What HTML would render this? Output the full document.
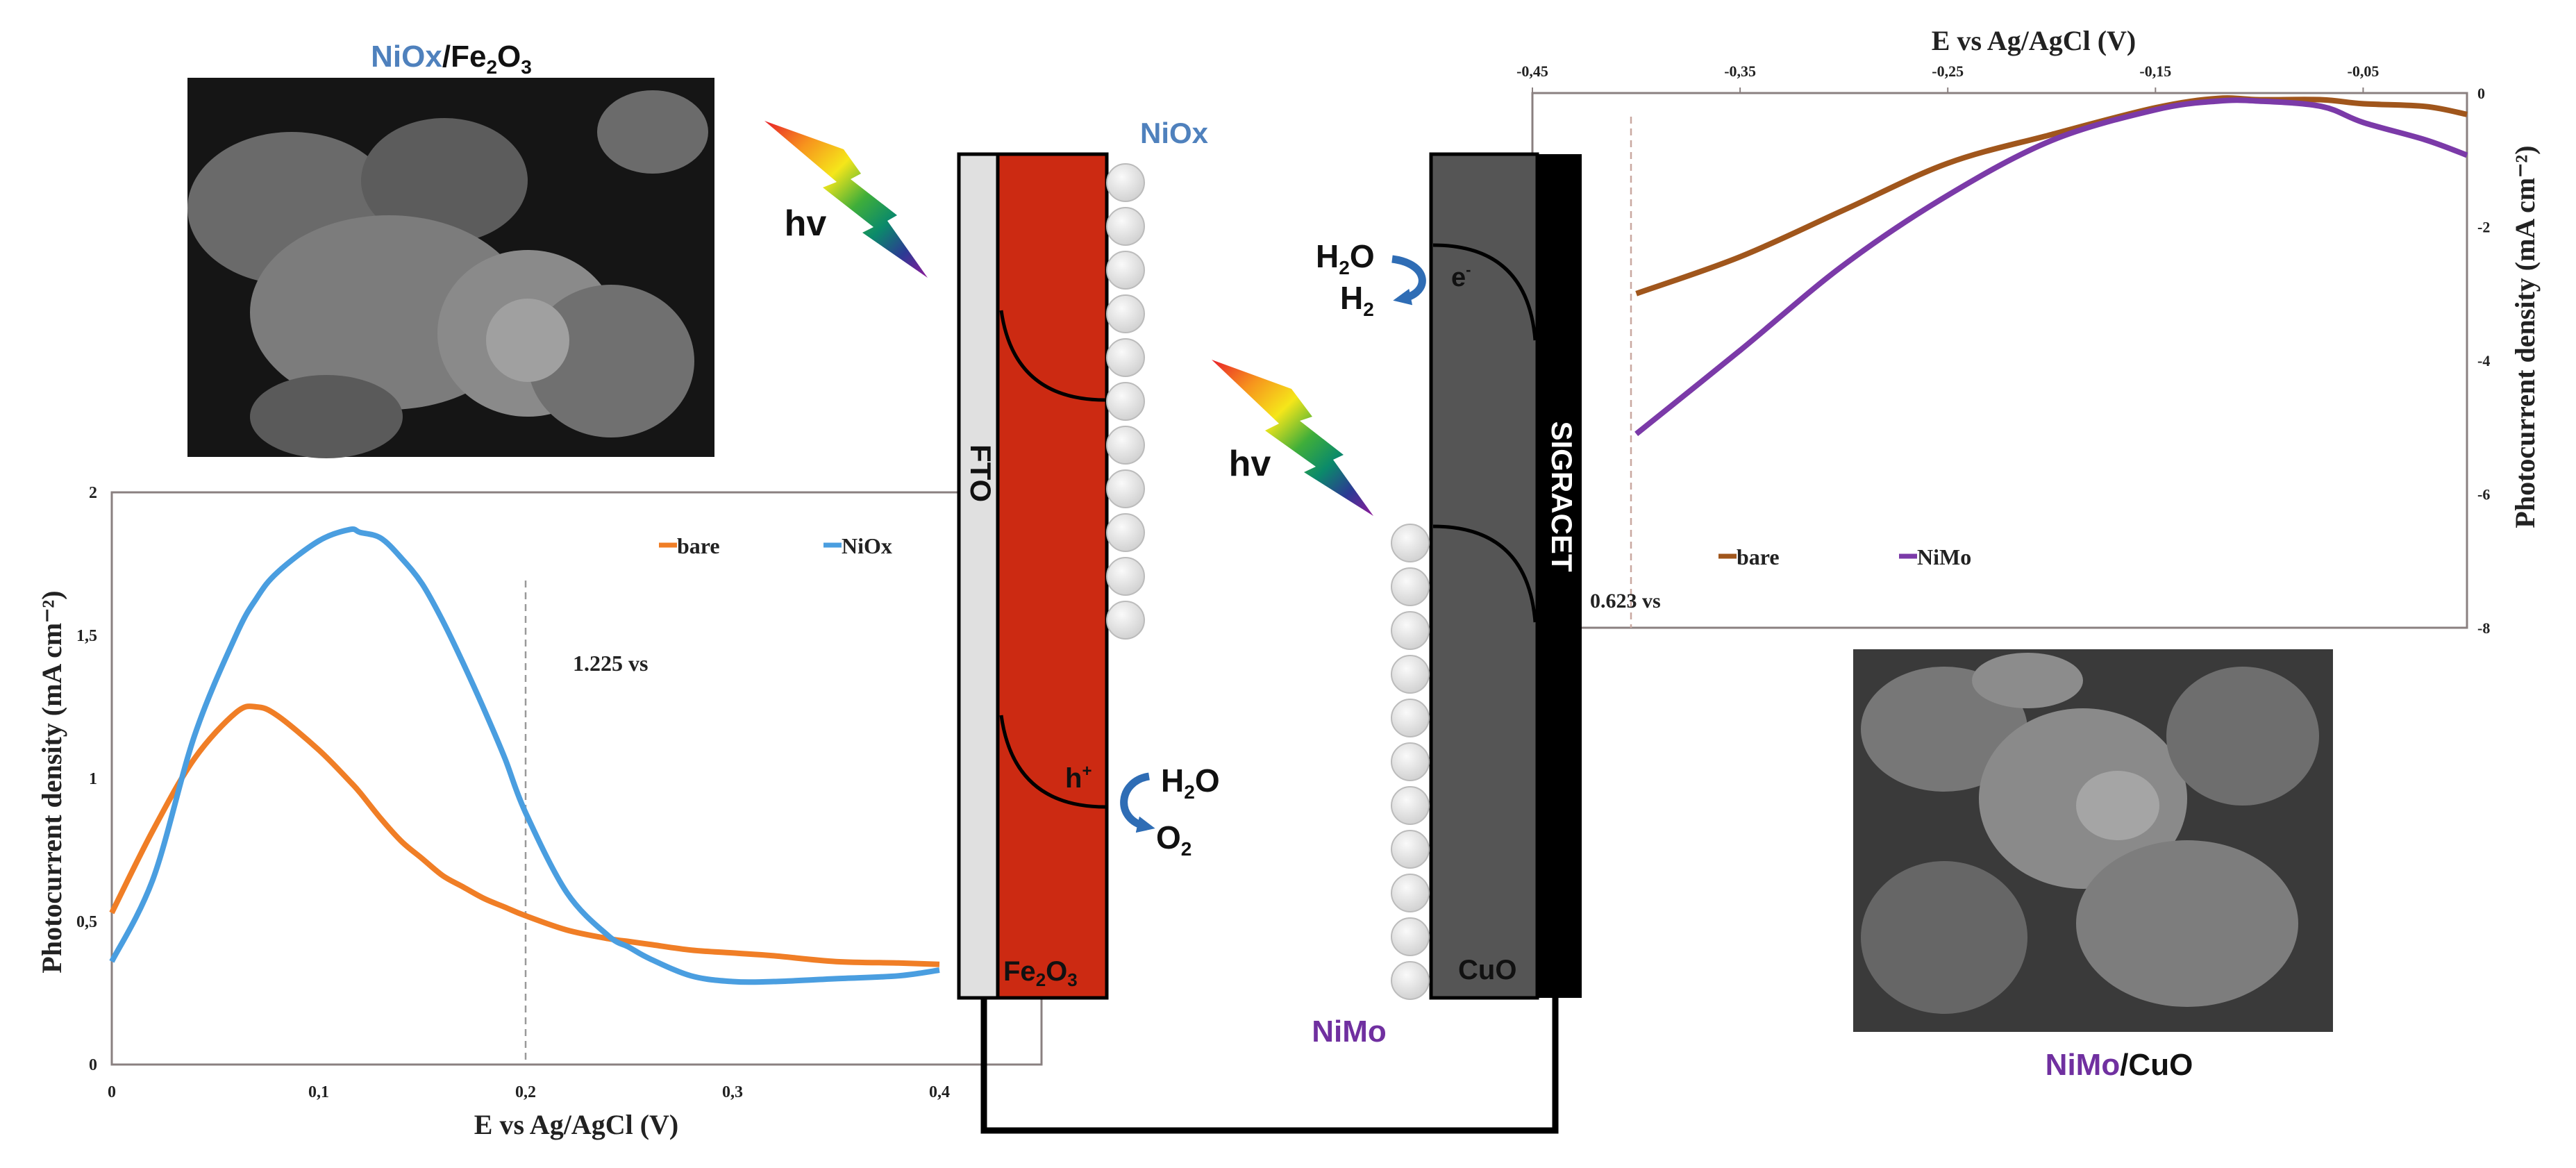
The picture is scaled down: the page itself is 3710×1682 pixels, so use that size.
<!DOCTYPE html>
<html><head><meta charset="utf-8"><style>
html,body{margin:0;padding:0;background:#fff;}
svg{display:block;}
.ser{font-family:"Liberation Serif",serif;font-weight:bold;}
.san{font-family:"Liberation Sans",sans-serif;font-weight:bold;}
</style></head><body>
<svg id="fig" width="3710" height="1682" viewBox="0 0 3710 1682" xmlns="http://www.w3.org/2000/svg">
<defs>
<linearGradient id="rainbow" x1="0" y1="0" x2="1" y2="1">
<stop offset="0" stop-color="#e8202a"/><stop offset="0.2" stop-color="#f7941d"/><stop offset="0.38" stop-color="#f5e61a"/><stop offset="0.55" stop-color="#3fae3a"/><stop offset="0.7" stop-color="#0b8a6a"/><stop offset="0.85" stop-color="#2b3a93"/><stop offset="1" stop-color="#8e1a9a"/>
</linearGradient>
<radialGradient id="bead" cx="0.4" cy="0.35" r="0.7"><stop offset="0" stop-color="#fafafa"/><stop offset="1" stop-color="#cfcfcf"/></radialGradient>
<marker id="arr" markerUnits="userSpaceOnUse" markerWidth="30" markerHeight="30" refX="12" refY="15" orient="auto"><path d="M0,3 L26,15 L0,27 z" fill="#2f6db5"/></marker>
</defs>

<g>
<rect x="270" y="112" width="759" height="546" fill="#151515"/>
<ellipse cx="420" cy="300" rx="150" ry="110" fill="#6a6a6a"/>
<ellipse cx="640" cy="260" rx="120" ry="90" fill="#5c5c5c"/>
<ellipse cx="560" cy="450" rx="200" ry="140" fill="#7c7c7c"/>
<ellipse cx="760" cy="480" rx="130" ry="120" fill="#8a8a8a"/>
<ellipse cx="880" cy="520" rx="120" ry="110" fill="#707070"/>
<ellipse cx="940" cy="190" rx="80" ry="60" fill="#6b6b6b"/>
<ellipse cx="470" cy="600" rx="110" ry="60" fill="#5a5a5a"/>
<ellipse cx="760" cy="490" rx="60" ry="60" fill="#a0a0a0"/>
</g>
<text class="san" x="650" y="96" font-size="44" text-anchor="middle"><tspan fill="#4f81bd">NiOx</tspan><tspan fill="#111">/Fe</tspan><tspan fill="#111" font-size="28" dy="10">2</tspan><tspan fill="#111" dy="-10">O</tspan><tspan fill="#111" font-size="28" dy="10">3</tspan></text>

<g>
<rect x="2669" y="935" width="691" height="551" fill="#3a3a3a"/>
<ellipse cx="2800" cy="1050" rx="120" ry="90" fill="#777"/>
<ellipse cx="3000" cy="1150" rx="150" ry="130" fill="#8a8a8a"/>
<ellipse cx="3230" cy="1060" rx="110" ry="100" fill="#6e6e6e"/>
<ellipse cx="2800" cy="1350" rx="120" ry="110" fill="#666"/>
<ellipse cx="3150" cy="1330" rx="160" ry="120" fill="#7d7d7d"/>
<ellipse cx="3050" cy="1160" rx="60" ry="50" fill="#a5a5a5"/>
<ellipse cx="2920" cy="980" rx="80" ry="40" fill="#8c8c8c"/>
</g>
<text class="san" x="3052" y="1548" font-size="44" text-anchor="middle"><tspan fill="#7030a0">NiMo</tspan><tspan fill="#111">/CuO</tspan></text>

<g id="leftChart"></g>
<g id="rightChart"></g>

<g>
<path d="M1417,1437 V1628 H2240 V1437" fill="none" stroke="#000" stroke-width="9"/>
<rect x="1381" y="222" width="56" height="1215" fill="#e0e0e0" stroke="#000" stroke-width="5"/>
<rect x="1437" y="222" width="157" height="1215" fill="#cc2a12" stroke="#000" stroke-width="5"/>
<text class="san" x="1409" y="640" font-size="42" fill="#111" transform="rotate(90 1409 640)" text-anchor="start" dominant-baseline="middle">FTO</text>
<text class="san" x="1445" y="1412" font-size="40" fill="#111">Fe<tspan font-size="26" dy="8">2</tspan><tspan dy="-8">O</tspan><tspan font-size="26" dy="8">3</tspan></text>
<path d="M1442,447 Q1460,576 1592,576" fill="none" stroke="#000" stroke-width="5"/>
<path d="M1442,1030 Q1460,1162 1592,1162" fill="none" stroke="#000" stroke-width="5"/>
<text class="san" x="1534" y="1134" font-size="40" fill="#111">h<tspan font-size="24" dy="-16">+</tspan></text>
<g id="niBeads"></g>
<text class="san" x="1691" y="206" font-size="42" fill="#4f81bd" text-anchor="middle">NiOx</text>
<path d="M1655,1118 C1610,1125 1605,1180 1650,1190" fill="none" stroke="#2f6db5" stroke-width="11" marker-end="url(#arr)"/>
<text class="san" x="1672" y="1140" font-size="46" fill="#111">H<tspan font-size="28" dy="10">2</tspan><tspan dy="-10">O</tspan></text>
<text class="san" x="1665" y="1222" font-size="46" fill="#111">O<tspan font-size="28" dy="10">2</tspan></text>

<rect x="2061" y="222" width="153" height="1215" fill="#555" stroke="#000" stroke-width="5"/>
<rect x="2214" y="222" width="64" height="1215" fill="#000"/>
<text class="san" x="2246" y="715" font-size="42" fill="#fff" transform="rotate(90 2246 715)" text-anchor="middle" dominant-baseline="middle">SIGRACET</text>
<text class="san" x="2100" y="1410" font-size="40" fill="#111">CuO</text>
<path d="M2064,353 Q2200,353 2211,490" fill="none" stroke="#000" stroke-width="5"/>
<path d="M2064,758 Q2200,758 2211,896" fill="none" stroke="#000" stroke-width="5"/>
<text class="san" x="2090" y="412" font-size="38" fill="#111">e<tspan font-size="22" dy="-16">-</tspan></text>
<g id="moBeads"></g>
<text class="san" x="1943" y="1500" font-size="44" fill="#7030a0" text-anchor="middle">NiMo</text>
<path d="M2005,373 C2060,380 2060,422 2020,430" fill="none" stroke="#2f6db5" stroke-width="11" marker-end="url(#arr)"/>
<text class="san" x="1895" y="385" font-size="46" fill="#111">H<tspan font-size="28" dy="10">2</tspan><tspan dy="-10">O</tspan></text>
<text class="san" x="1930" y="445" font-size="46" fill="#111">H<tspan font-size="28" dy="10">2</tspan></text>

<polygon points="1101,174 1215,215 1240,250 1225,258 1292,310 1278,318 1336,400 1242,335 1258,327 1185,270 1205,262" fill="url(#rainbow)"/>
<text class="san" x="1160" y="339" font-size="52" fill="#111" text-anchor="middle">hv</text>
<polygon points="1745,518 1860,560 1890,600 1872,606 1935,655 1920,662 1978,743 1878,680 1895,672 1822,620 1842,610" fill="url(#rainbow)"/>
<text class="san" x="1800" y="685" font-size="52" fill="#111" text-anchor="middle">hv</text>
</g>
</svg>
<script>
const leftX = [0,0.02,0.04,0.06,0.07,0.08,0.1,0.115,0.12,0.13,0.14,0.15,0.16,0.17,0.18,0.19,0.2,0.22,0.24,0.25,0.26,0.28,0.3,0.32,0.35,0.38,0.4];
const leftBare = [0.53,0.82,1.07,1.23,1.25,1.22,1.1,0.99,0.95,0.86,0.78,0.72,0.66,0.62,0.58,0.55,0.52,0.47,0.44,0.43,0.42,0.40,0.39,0.38,0.36,0.355,0.35];
const leftNiOx = [0.36,0.65,1.15,1.5,1.63,1.72,1.83,1.87,1.86,1.84,1.77,1.68,1.55,1.4,1.24,1.07,0.88,0.6,0.45,0.41,0.37,0.31,0.29,0.29,0.30,0.31,0.33];
const leftXTicks = [0,0.1,0.2,0.3,0.4];
const leftXTickLabels = ["0","0,1","0,2","0,3","0,4"];
const leftYTicks = [0,0.5,1,1.5,2];
const leftYTickLabels = ["0","0,5","1","1,5","2"];
const rightX = [-0.40,-0.35,-0.30,-0.25,-0.20,-0.15,-0.12,-0.10,-0.07,-0.05,-0.02,0];
const rightBare = [-3.0,-2.45,-1.75,-1.05,-0.62,-0.22,-0.08,-0.1,-0.1,-0.16,-0.2,-0.32];
const rightNiMo = [-5.1,-3.85,-2.57,-1.53,-0.71,-0.25,-0.12,-0.12,-0.2,-0.44,-0.7,-0.93];
const rightXTicks = [-0.45,-0.35,-0.25,-0.15,-0.05];
const rightXTickLabels = ["-0,45","-0,35","-0,25","-0,15","-0,05"];
const rightYTicks = [0,-2,-4,-6,-8];
const rightYTickLabels = ["0","-2","-4","-6","-8"];

const NS="http://www.w3.org/2000/svg";
function mk(tag, attrs, parent){const e=document.createElementNS(NS,tag);for(const k in attrs)e.setAttribute(k,attrs[k]);parent.appendChild(e);return e;}
function pathFrom(xs,ys,sx,sy){
  const P=xs.map((x,i)=>[sx(x),sy(ys[i])]);
  let d="M"+P[0][0].toFixed(1)+","+P[0][1].toFixed(1);
  for(let i=0;i<P.length-1;i++){
    const p0=P[Math.max(0,i-1)],p1=P[i],p2=P[i+1],p3=P[Math.min(P.length-1,i+2)];
    const c1=[p1[0]+(p2[0]-p0[0])/6,p1[1]+(p2[1]-p0[1])/6];
    const c2=[p2[0]-(p3[0]-p1[0])/6,p2[1]-(p3[1]-p1[1])/6];
    d+="C"+c1[0].toFixed(1)+","+c1[1].toFixed(1)+" "+c2[0].toFixed(1)+","+c2[1].toFixed(1)+" "+p2[0].toFixed(1)+","+p2[1].toFixed(1);
  }
  return d;}

(function(){
  const g=document.getElementById('leftChart');
  const sx=v=>161+(v-0)/(0.4)*(1353-161);
  const sy=v=>1533-(v/2)*(1533-709);
  const fr=mk('path',{d:"M161,709 H1500 V1533 H161 Z",fill:"none",stroke:"#8a8080","stroke-width":3},g);
  
  
  leftXTicks.forEach((t,i)=>{const tx=mk('text',{x:sx(t),y:1580,"font-size":24,"text-anchor":"middle",class:"ser",fill:"#222"},g);tx.textContent=leftXTickLabels[i];
    
    });
  leftYTicks.forEach((t,i)=>{const tx=mk('text',{x:140,y:sy(t)+8,"font-size":24,"text-anchor":"end",class:"ser",fill:"#222"},g);tx.textContent=leftYTickLabels[i];
    
    });
  const dl=mk('line',{x1:sx(0.2),x2:sx(0.2),y1:836,y2:1533,stroke:"#999","stroke-width":2.5,"stroke-dasharray":"10,7"},g);
  
  
  const an=mk('text',{x:825,y:966,"font-size":32,class:"ser",fill:"#222"},g);an.textContent="1.225 vs";
  
  
  const p1=mk('path',{d:pathFrom(leftX,leftBare,sx,sy),fill:"none",stroke:"#f07e26","stroke-width":8,"stroke-linejoin":"round"},g);
  
  
  const p2=mk('path',{d:pathFrom(leftX,leftNiOx,sx,sy),fill:"none",stroke:"#4a9ee0","stroke-width":8,"stroke-linejoin":"round"},g);
  
  
  [[949,"#f07e26","bare"],[1186,"#4a9ee0","NiOx"]].forEach(L=>{
    const lg=mk('g',{},g);
    
    
    mk('line',{x1:L[0],x2:L[0]+26,y1:785,y2:785,stroke:L[1],"stroke-width":7},lg);
    const t=mk('text',{x:L[0]+26,y:797,"font-size":32,class:"ser",fill:"#222"},lg);t.textContent=L[2];});
  const xt=mk('text',{x:830,y:1633,"font-size":40,"text-anchor":"middle",class:"ser",fill:"#222"},g);xt.textContent="E vs Ag/AgCl (V)";
  
  
  const yt=mk('text',{x:0,y:0,"font-size":40,"text-anchor":"middle",class:"ser",fill:"#222",transform:"translate(88,1126) rotate(-90)"},g);yt.textContent="Photocurrent density (mA cm\u207B\u00B2)";
  
  
})();

(function(){
  const g=document.getElementById('rightChart');
  const sx=v=>2207+(v+0.45)/0.45*(3553-2207);
  const sy=v=>134+(-v/8)*(904-134);
  const fr=mk('path',{d:"M2207,904 V134 H3553 V904 H2207",fill:"none",stroke:"#8a8080","stroke-width":3},g);
  
  
  rightXTicks.forEach((t,i)=>{const tx=mk('text',{x:sx(t),y:110,"font-size":22,"text-anchor":"middle",class:"ser",fill:"#222"},g);tx.textContent=rightXTickLabels[i];
    
    
    mk('line',{x1:sx(t),x2:sx(t),y1:134,y2:126,stroke:"#8a8080","stroke-width":2},g);});
  rightYTicks.forEach((t,i)=>{const tx=mk('text',{x:3568,y:sy(t)+8,"font-size":22,class:"ser",fill:"#222"},g);tx.textContent=rightYTickLabels[i];
    
    });
  const dl=mk('line',{x1:2349,x2:2349,y1:168,y2:904,stroke:"#c9a8a0","stroke-width":2.5,"stroke-dasharray":"10,7"},g);
  
  
  const an=mk('text',{x:2290,y:875,"font-size":30,class:"ser",fill:"#222"},g);an.textContent="0.623 vs";
  
  
  const p1=mk('path',{d:pathFrom(rightX,rightBare,sx,sy),fill:"none",stroke:"#a0561c","stroke-width":8,"stroke-linejoin":"round"},g);
  
  
  const p2=mk('path',{d:pathFrom(rightX,rightNiMo,sx,sy),fill:"none",stroke:"#7b3aa8","stroke-width":8,"stroke-linejoin":"round"},g);
  
  
  [[2475,"#a0561c","bare"],[2735,"#7b3aa8","NiMo"]].forEach(L=>{
    const lg=mk('g',{},g);
    
    
    mk('line',{x1:L[0],x2:L[0]+26,y1:801,y2:801,stroke:L[1],"stroke-width":7},lg);
    const t=mk('text',{x:L[0]+26,y:813,"font-size":32,class:"ser",fill:"#222"},lg);t.textContent=L[2];});
  const xt=mk('text',{x:2929,y:72,"font-size":40,"text-anchor":"middle",class:"ser",fill:"#222"},g);xt.textContent="E vs Ag/AgCl (V)";
  
  
  const yt=mk('text',{x:0,y:0,"font-size":40,"text-anchor":"middle",class:"ser",fill:"#222",transform:"translate(3650,485) rotate(-90)"},g);yt.textContent="Photocurrent density (mA cm\u207B\u00B2)";
  
  
})();

(function(){
  const a=document.getElementById('niBeads');
  for(let i=0;i<11;i++){const c=mk('circle',{cx:1621,cy:263+i*63,r:27,fill:"url(#bead)",stroke:"#bbb","stroke-width":2},a);
    
    }
  const b=document.getElementById('moBeads');
  for(let i=0;i<11;i++){const c=mk('circle',{cx:2031,cy:782+i*63,r:27,fill:"url(#bead)",stroke:"#bbb","stroke-width":2},b);
    
    }
})();
</script>
</body></html>
